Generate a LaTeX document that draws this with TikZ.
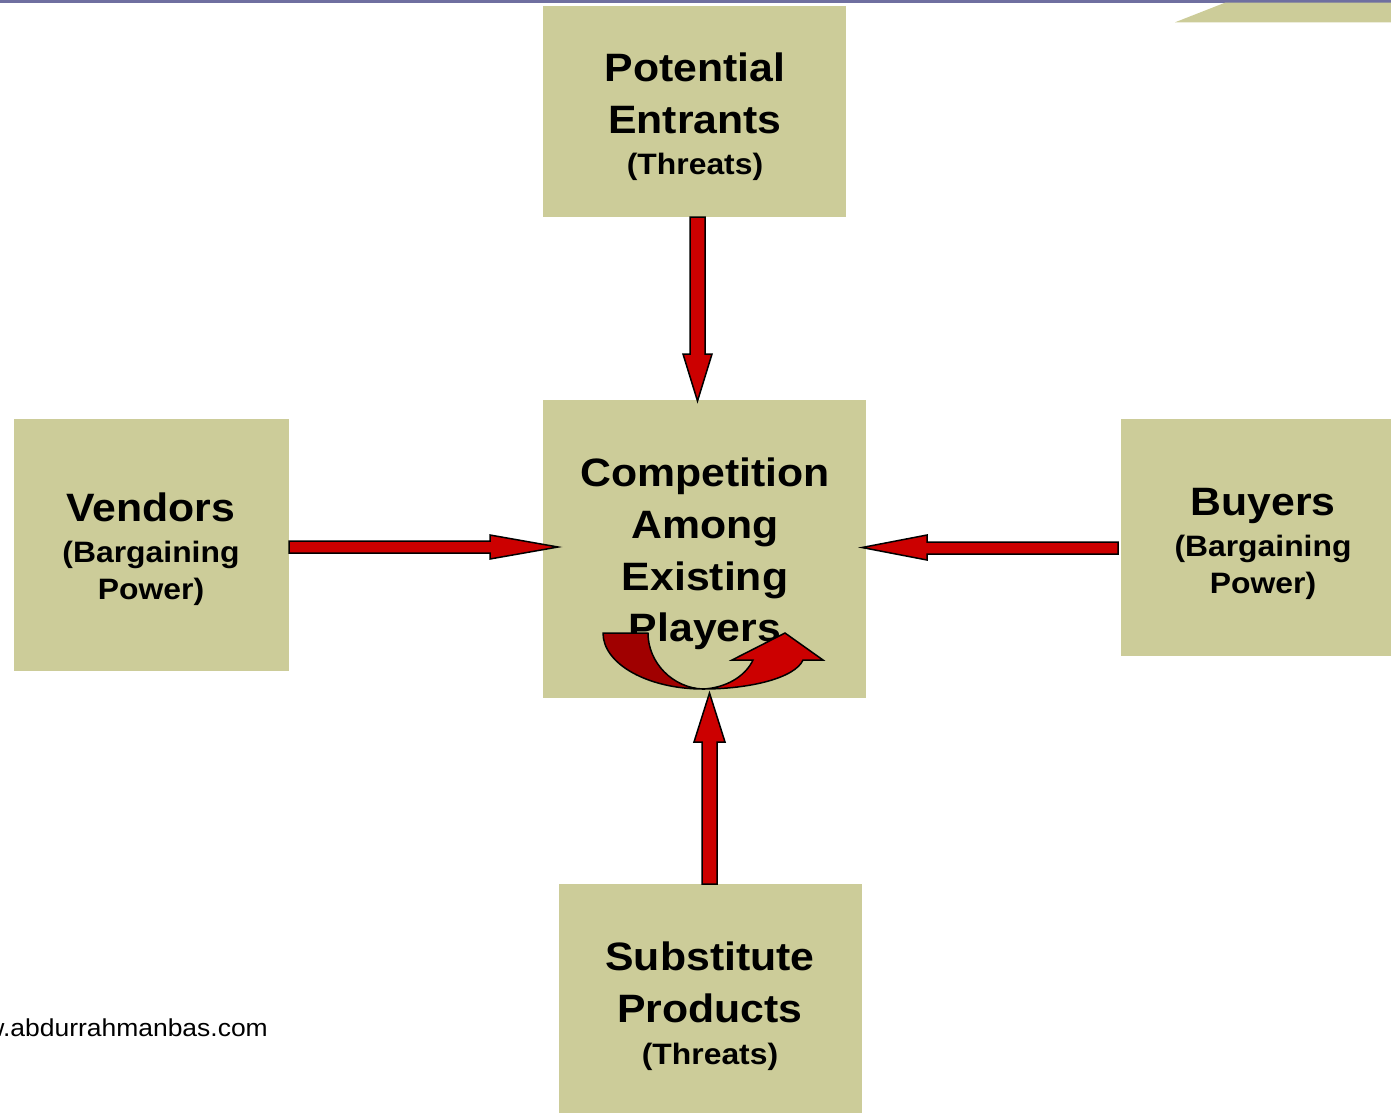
\documentclass[tikz,border=0pt]{standalone}
\usepackage{fontspec}
\setmainfont{Liberation Sans}[FakeStretch=1.08]
\usetikzlibrary{calc}
\definecolor{beige}{RGB}{204,204,153}
\definecolor{arrred}{RGB}{204,0,0}
\definecolor{darkred}{RGB}{160,0,0}
\definecolor{topline}{RGB}{111,111,160}
\tikzset{
 box/.style={fill=beige, draw=none, inner sep=0pt, outer sep=0pt, anchor=north west},
 title/.style={font=\fontsize{39.6}{47}\selectfont\bfseries, anchor=base, inner sep=0pt},
 sub/.style={font=\fontsize{29.5}{35}\selectfont\bfseries, anchor=base, inner sep=0pt},
 blk/.style={fill=arrred, draw=black, line width=1.5pt, line join=miter},
}
\begin{document}
\begin{tikzpicture}[x=1pt,y=-1pt]
\useasboundingbox (0,0) rectangle (1391,1112);
\clip (0,0) rectangle (1391,1112);
\fill[white] (0,0) rectangle (1391,1112);
% top decoration
\fill[topline] (0,0) rectangle (1391,2.5);
\fill[beige] (1175,22.3) -- (1225,2.7) -- (1391,2.7) -- (1391,22.3) -- cycle;
% boxes
\node[box, minimum width=303pt, minimum height=211pt] (pe) at (543,6) {};
\node[box, minimum width=323pt, minimum height=298pt] (cen) at (543,400) {};
\node[box, minimum width=275pt, minimum height=252pt] (ven) at (14,419) {};
\node[box, minimum width=270pt, minimum height=237pt] (buy) at (1121,419) {};
\node[box, minimum width=303pt, minimum height=230pt] (sub) at (559,884) {};
% texts
\node[title] (pe1) at (695,81) {Potential};
\node[title] (pe2) at (695,133) {Entrants};
\node[sub] (pe3) at (695,174) {(Threats)};
\node[title] (cen1) at (705,486) {Competition};
\node[title] (cen2) at (705,538) {Among};
\node[title] (cen3) at (705,590) {Existing};
\node[title] (cen4) at (705,641) {Players};
\node[title] (ven1) at (151,521) {Vendors};
\node[sub] (ven2) at (151,562) {(Bargaining};
\node[sub] (ven3) at (151,599) {Power)};
\node[title] (buy1) at (1263,515) {Buyers};
\node[sub] (buy2) at (1263,556) {(Bargaining};
\node[sub] (buy3) at (1263,593) {Power)};
\node[title] (sub1) at (710,970) {Substitute};
\node[title] (sub2) at (710,1022) {Products};
\node[sub] (sub3) at (710,1064) {(Threats)};
\node[font=\fontsize{24.5}{29}\selectfont, anchor=base east, inner sep=0pt] (url) at (268,1036) {www.abdurrahmanbas.com};
% block arrows
\draw[blk] let \p1=(pe.south), \p2=(cen.north) in
 (690pt,\y1) -- (690pt,{\y2+46pt}) -- (683pt,{\y2+46pt}) -- (697.5pt,{\y2-1pt})
 -- (712pt,{\y2+46pt}) -- (705pt,{\y2+46pt}) -- (705pt,\y1) -- cycle;
\draw[blk] let \p1=(sub.north), \p2=(cen.south) in
 (702pt,\y1) -- (702pt,{\y2-44pt}) -- (694pt,{\y2-44pt}) -- (709.5pt,{\y2+5pt})
 -- (725pt,{\y2-44pt}) -- (717pt,{\y2-44pt}) -- (717pt,\y1) -- cycle;
\draw[blk] let \p1=(ven.east), \p2=(cen.west) in
 (\x1,-541pt) -- ({\x2-53pt},-541pt) -- ({\x2-53pt},-535pt) -- ({\x2+15pt},-547pt)
 -- ({\x2-53pt},-559pt) -- ({\x2-53pt},-553pt) -- (\x1,-553pt) -- cycle;
\draw[blk] let \p1=(buy.west), \p2=(cen.east) in
 ({\x1-3pt},-542pt) -- ({\x2+61pt},-542pt) -- ({\x2+61pt},-535pt) -- ({\x2-4pt},-547.5pt)
 -- ({\x2+61pt},-560pt) -- ({\x2+61pt},-554pt) -- ({\x1-3pt},-554pt) -- cycle;
% U-turn arrow inside centre box
\draw[fill=darkred, line width=1.5pt, line join=round]
 (603,633) -- (648,633) .. controls (648,663) and (673,688) .. (703,689)
 .. controls (648,689) and (603,664) .. (603,633) -- cycle;
\draw[blk, line join=miter]
 (703,689) .. controls (725,688) and (745,677) .. (753,660) -- (732,660) -- (785,633)
 -- (823,660) -- (803,660) .. controls (795,678) and (750,689) .. (703,689) -- cycle;
\end{tikzpicture}
\end{document}
